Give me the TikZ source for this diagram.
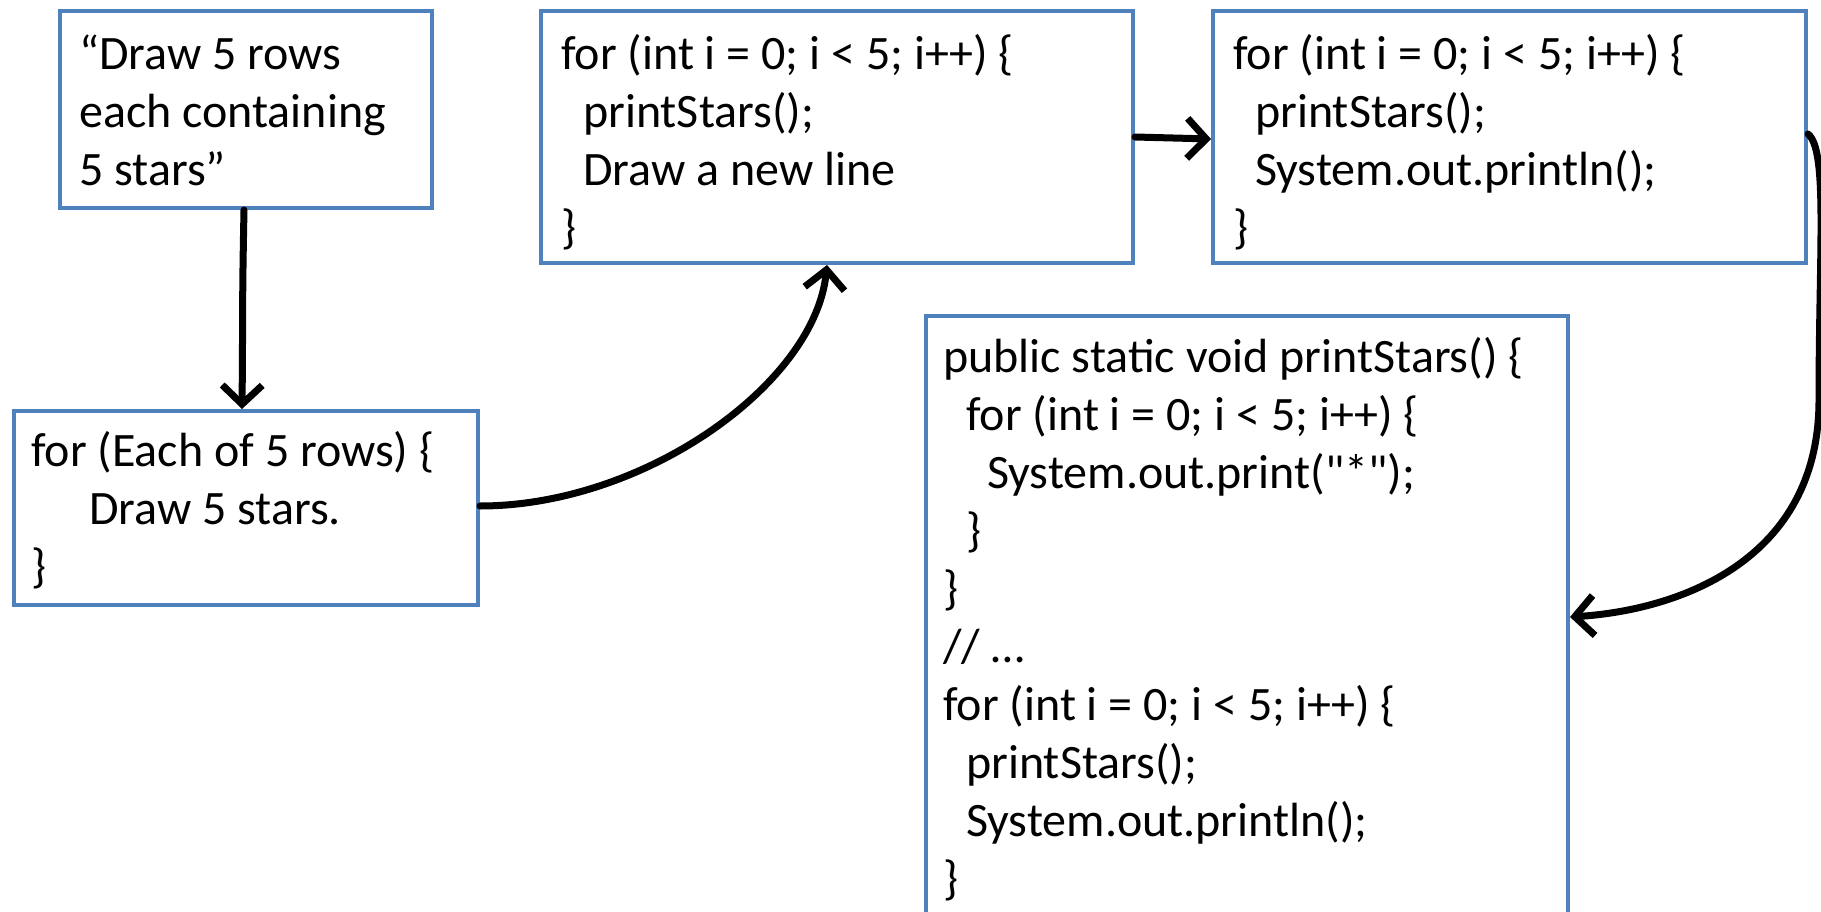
\documentclass[tikz,border=0pt]{standalone}
\usepackage{fontspec}
\setmainfont{Carlito}[Ligatures=TeXOff]
\usetikzlibrary{arrows.meta,calc}
\definecolor{boxblue}{HTML}{4F81BD}
\tikzset{
  codebox/.style={draw=boxblue, line width=4pt, fill=white, inner sep=0pt,
    anchor=north west, rectangle},
  codetext/.style={anchor=north west, inner sep=0pt, align=left,
    font=\fontsize{48}{58}\selectfont},
  flow/.style={line width=7pt, draw=black, line cap=round,
    -{Straight Barb[length=19pt, width=40pt, line width=7pt]}}
}
\newcommand{\ind}[1]{\hspace*{#1pt}}
\begin{document}
\begin{tikzpicture}[x=1pt, y=-1pt]
\useasboundingbox (0,0) rectangle (1821,912);
\clip (0,0) rectangle (1821,912);

% boxes
\node[codebox, minimum width=372pt, minimum height=197pt] (A) at (58,9) {};
\node[codebox, minimum width=464pt, minimum height=194pt] (B) at (12,409) {};
\node[codebox, minimum width=592pt, minimum height=252pt] (C) at (539,9) {};
\node[codebox, minimum width=593pt, minimum height=252pt] (D) at (1211,9) {};
\node[codebox, minimum width=642pt, minimum height=660pt] (E) at (924,314) {};

% texts
\node[codetext] (tA) at ($(A.north west)+(21,20)$)
  {\strut“Draw 5 rows\\each containing\\5 stars”};
\node[codetext] (tB) at ($(B.north west)+(19,17)$)
  {\strut for (Each of 5 rows) \{\\\ind{58}Draw 5 stars.\\\}};
\node[codetext] (tC) at ($(C.north west)+(22,20)$)
  {\strut for (int i = 0; i < 5; i++) \{\\\ind{22}printStars();\\\ind{22}Draw a new line\\\}};
\node[codetext] (tD) at ($(D.north west)+(22,20)$)
  {\strut for (int i = 0; i < 5; i++) \{\\\ind{22}printStars();\\\ind{22}System.out.println();\\\}};
\node[codetext] (tE) at ($(E.north west)+(19,18)$)
  {\strut public static void printStars() \{\\
   \ind{23}for (int i = 0; i < 5; i++) \{\\
   \ind{44}System.out.print("*");\\
   \ind{23}\}\\
   \}\\
   // …\\
   for (int i = 0; i < 5; i++) \{\\
   \ind{23}printStars();\\
   \ind{23}System.out.println();\\
   \}};

% connectors
\draw[flow] ($(A.south west)+(186,0)$) .. controls ($(A.south west)+(184,100)$) and ($(B.north west)+(231,-100)$) .. ($(B.north west)+(230,0)$);
\draw[flow] ($(B.north east)+(0,97)$) .. controls ($(B.north east)+(164,97)$) and ($(C.south west)+(276,119)$) .. ($(C.south west)+(288,0)$);
\draw[flow] ($(C.north east)+(0,128)$) -- ($(D.north west)+(0,130)$);
\draw[flow] ($(D.north east)+(0,125)$) .. controls ($(D.north east)+(20,141)$) and (1819,250) .. (1819,400)
  .. controls (1819,560) and (1680,610) .. ($(E.north east)+(0,303)$);
\end{tikzpicture}
\end{document}
